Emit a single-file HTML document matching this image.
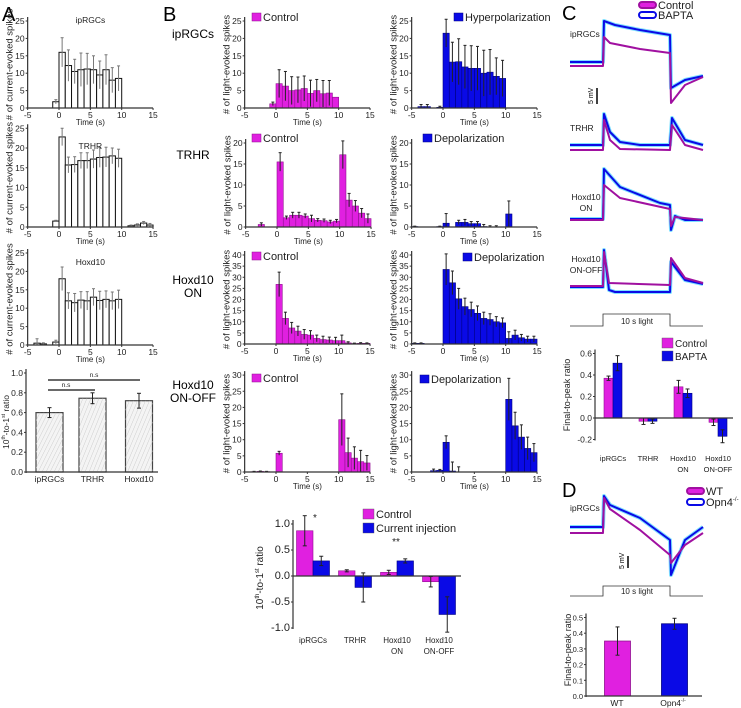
<!DOCTYPE html>
<html><head><meta charset="utf-8"><style>
html,body{margin:0;padding:0;background:#fff;}
svg{display:block;font-family:"Liberation Sans",sans-serif;}
</style></head><body>
<svg id="fig" width="741" height="708" viewBox="0 0 741 708" xmlns="http://www.w3.org/2000/svg">
<g id="static">
<text x="2" y="21" font-size="20">A</text>
<text x="163" y="21" font-size="20">B</text>
<text x="562" y="20" font-size="20">C</text>
<text x="562" y="497" font-size="20">D</text>
<text x="193" y="38" font-size="12" text-anchor="middle">ipRGCs</text>
<text x="193" y="159" font-size="12" text-anchor="middle">TRHR</text>
<text x="193" y="284" font-size="12" text-anchor="middle"><tspan x="193">Hoxd10</tspan><tspan x="193" dy="13">ON</tspan></text>
<text x="193" y="389" font-size="12" text-anchor="middle"><tspan x="193">Hoxd10</tspan><tspan x="193" dy="13">ON-OFF</tspan></text>
</g>
</svg>
<script>
const NS='http://www.w3.org/2000/svg';
const svg=document.getElementById('fig');
// ---------- data ----------
const A1v=[0,0,0,0,1.8,16,12.2,10.5,11,11.2,11,9.5,11,8,8.5,0,0,0,0,0];
const A1e=[0,0,0,0,0.6,4.2,4.5,3.5,4.8,4.5,4,4,4.3,3.6,3.6,0,0,0,0,0];
const A2v=[0,0,0,0,1.5,22.8,15.7,15.8,16.8,16.8,17.2,17.6,17.7,18,17.4,0,0.3,0.5,1,0.5];
const A2e=[0,0,0,0,0.2,2.2,2,2,2,2,2.3,2.5,2.5,2,2.3,0,0.2,0.3,0.4,0.4];
const A3v=[0,0.5,0.3,0,0.8,18,12,11.5,12.2,12,13,12.1,12.4,12,12.4,0,0,0,0,0];
const A3e=[0,1.2,0.3,0,0.5,3.2,2.2,2.5,2.3,2.5,2.3,2.5,2.3,2.4,2.5,0,0,0,0,0];
const B1c=[0,0,0,0,1.2,7,6.3,5,5.2,5.6,4.2,5,4.1,4.3,3.1,0,0,0,0,0];
const B1ce=[0,0,0,0,0.5,4,4.2,4,3.7,3.6,3.8,3.2,3.8,3.6,0,0,0,0,0,0];
const B1d=[0,0.4,0.4,0,0.2,21.5,13.2,13.3,11.8,11.4,11.4,10,10.3,9.1,8.5,0,0,0,0,0];
const B1de=[0,0.6,0.6,0,0.3,4,5.7,6.6,6.2,6.5,6.3,6.6,6.5,5.3,5.2,0,0,0,0,0];
const B2c=[0,0,0.6,0,0,15.5,2.2,2.8,2.8,2.6,2,1.6,1.5,1.2,1.4,17.2,6.4,5,3.3,2];
const B2ce=[0,0,0.4,0,0,2.2,0.4,0.7,0.7,0.5,0.8,0.4,0.4,0.4,0.4,3.3,1.6,1.3,1.1,1.1];
const B2d=[0.1,0,0,0,0.1,0.9,0,1.1,1.1,0.8,0.8,0.1,0,0,0,3.1,0,0,0,0];
const B2de=[0.1,0,0,0,0.1,2.3,0,0.5,0.7,0.5,0.5,0.5,0.3,0.3,0,3.1,0,0,0,0];
const B3c=[0,0,0,0,0,26.8,11.5,7.2,5.8,4.3,4,2.5,2,1.8,1.5,1.5,0.5,0.2,0.3,0.3];
const B3ce=[0,0,0,0,0,5.5,2.8,2.5,2.2,2.2,2,1.5,1.5,1.3,1.5,2.5,0.5,0.2,0.3,0.2];
const B3d=[0.3,0.3,0,0,0,33.5,27.5,20.3,16.8,15.5,13.8,11.5,11,10,9.5,2.5,4,2.8,2.2,2.2];
const B3de=[0.2,0.2,0,0,0,7,5.3,4.7,3.8,3.3,3.3,2.8,2.6,2.3,2.2,3,2.2,1.5,1.3,1.3];
const B4c=[0,0.1,0.2,0.1,0,5.8,0,0,0,0,0,0,0,0,0,16.2,6,4.3,3.2,2.8];
const B4ce=[0,0.1,0.1,0.1,0,0.6,0,0,0,0,0,0,0,0,0,8,4.5,3.5,3.5,2.3];
const B4d=[0,0,0,0.4,0.5,9.2,0.3,0,0,0,0,0,0,0,0,22.5,14.3,10.8,7.3,6];
const B4de=[0,0,0,0.5,0.3,2,2.8,1.6,0,0,0,0,0,0,0,6.5,4.2,3.8,3.5,2.8];
const xTicks=[-5,0,5,10,15];
const A4cats=['ipRGCs','TRHR','Hoxd10'];
const A4vals=[0.60,0.745,0.72];
const A4errs=[0.05,0.055,0.075];
const Bcats=[['ipRGCs'],['TRHR'],['Hoxd10','ON'],['Hoxd10','ON-OFF']];
const Bctrl=[0.87,0.10,0.07,-0.11];
const BctrlE=[0.29,0.02,0.04,0.10];
const Binj=[0.29,-0.22,0.29,-0.74];
const BinjE=[0.09,0.28,0.04,0.34];
const Ccats=[['ipRGCs'],['TRHR'],['Hoxd10','ON'],['Hoxd10','ON-OFF']];
const Cctrl=[0.37,-0.03,0.29,-0.04];
const CctrlE=[0.02,0.03,0.06,0.03];
const Cbap=[0.51,-0.03,0.23,-0.17];
const CbapE=[0.07,0.02,0.04,0.06];
const Dcats=['WT','Opn4'];
const Dvals=[0.35,0.46];
const Derrs=[0.09,0.035];
const MAG='#e020e0',BLU='#0a0ae6';

function el(tag,attrs,parent){const e=document.createElementNS(NS,tag);for(const k in attrs)e.setAttribute(k,attrs[k]);(parent||svg).appendChild(e);return e;}
function txt(x,y,s,size,anchor,parent){const t=el('text',{x:x,y:y,'font-size':size,'text-anchor':anchor||'middle',fill:'#222'},parent);t.textContent=s;return t;}

function hist(name,c){
  const g=el('g',{});
  
  
  const sx=6.27, xp=t=>c.x0+t*sx, yp=v=>c.y0-v*c.sy;
  c.vals.forEach((v,i)=>{const t=i-5;
    if(v>0){const b=el('rect',{x:xp(t),y:yp(v),width:sx,height:v*c.sy,fill:c.fill,stroke:c.stroke,'stroke-width':c.sw||0.6},g);
      
      }
    const e=c.errs[i];
    if(e>0){const cx=xp(t+0.5);
      el('line',{x1:cx,x2:cx,y1:yp(Math.max(v-e,0)),y2:yp(v+e),stroke:c.ec,'stroke-width':1},g);
      el('line',{x1:cx-1.5,x2:cx+1.5,y1:yp(v+e),y2:yp(v+e),stroke:c.ec,'stroke-width':1},g);}
  });
  const ax=xp(-5);
  el('line',{x1:ax,x2:ax,y1:c.y0,y2:yp(c.ymax)-4,stroke:'#333','stroke-width':1.2},g);
  for(let v=0;v<=c.ymax;v+=c.step){el('line',{x1:ax-2,x2:ax,y1:yp(v),y2:yp(v),stroke:'#333'},g);txt(ax-3,yp(v)+3,String(v),8.5,'end',g);}
  el('line',{x1:ax,x2:xp(15),y1:c.y0,y2:c.y0,stroke:'#333','stroke-width':1.2},g);
  xTicks.forEach(t=>{el('line',{x1:xp(t),x2:xp(t),y1:c.y0,y2:c.y0+2,stroke:'#333'},g);txt(xp(t),c.y0+10,String(t),8.5,'middle',g);});
  const tl=txt(xp(5),c.y0+17,'Time (s)',8,'middle',g);
  
  
  const yl=el('text',{x:0,y:0,'font-size':9.5,'text-anchor':'middle',fill:'#222',transform:`translate(${ax-15},${c.y0-c.ymax*c.sy/2}) rotate(-90)`},g);
  yl.textContent=c.ylabel;
  
  
  if(c.title){const tt=txt(xp(5),c.titleY,c.title,8.5,'middle',g);
    
    }
  if(c.leg){const lr=el('rect',{x:c.leg[0],y:c.leg[1]-8,width:9,height:8,fill:c.fill,stroke:c.stroke,'stroke-width':0.5},g);
    
    
    const lt=txt(c.leg[0]+11,c.leg[1],c.leg[2],11,'start',g);
    
    }
}
const AW={fill:'#fff',stroke:'#111',ec:'#777',sw:1,ylabel:'# of current-evoked spikes'};
hist('hist-a-iprgcs',Object.assign({x0:59,y0:108,sy:3.48,ymax:25,step:5,vals:A1v,errs:A1e,title:'ipRGCs',titleY:23},AW));
hist('hist-a-trhr',Object.assign({x0:59,y0:227,sy:3.95,ymax:25,step:5,vals:A2v,errs:A2e,title:'TRHR',titleY:149},AW));
hist('hist-a-hoxd10',Object.assign({x0:59,y0:345,sy:3.68,ymax:25,step:5,vals:A3v,errs:A3e,title:'Hoxd10',titleY:265},AW));
const BM={fill:MAG,stroke:'#901090',ec:'#222',ylabel:'# of light-evoked spikes'};
const BB={fill:BLU,stroke:'#000080',ec:'#222',ylabel:'# of light-evoked spikes'};
hist('hist-b-iprgcs-control',Object.assign({x0:276,y0:108,sy:3.48,ymax:25,step:5,vals:B1c,errs:B1ce,leg:[252,21,'Control']},BM));
hist('hist-b-iprgcs-hyper',Object.assign({x0:443,y0:108,sy:3.48,ymax:25,step:5,vals:B1d,errs:B1de,leg:[454,21,'Hyperpolarization']},BB));
hist('hist-b-trhr-control',Object.assign({x0:277,y0:227,sy:4.2,ymax:20,step:5,vals:B2c,errs:B2ce,leg:[252,142,'Control']},BM));
hist('hist-b-trhr-depol',Object.assign({x0:443,y0:227,sy:4.2,ymax:20,step:5,vals:B2d,errs:B2de,leg:[423,142,'Depolarization']},BB));
hist('hist-b-on-control',Object.assign({x0:276,y0:344,sy:2.225,ymax:40,step:5,vals:B3c,errs:B3ce,leg:[252,260,'Control']},BM));
hist('hist-b-on-depol',Object.assign({x0:443,y0:344,sy:2.225,ymax:40,step:5,vals:B3d,errs:B3de,leg:[463,261,'Depolarization']},BB));
hist('hist-b-onoff-control',Object.assign({x0:276,y0:472,sy:3.23,ymax:30,step:5,vals:B4c,errs:B4ce,leg:[252,382,'Control']},BM));
hist('hist-b-onoff-depol',Object.assign({x0:443,y0:472,sy:3.23,ymax:30,step:5,vals:B4d,errs:B4de,leg:[420,383,'Depolarization']},BB));

function errbar(g,cx,y1,y2,col){el('line',{x1:cx,x2:cx,y1:y1,y2:y2,stroke:col||'#222'},g);
  el('line',{x1:cx-2,x2:cx+2,y1:y1,y2:y1,stroke:col||'#222'},g);el('line',{x1:cx-2,x2:cx+2,y1:y2,y2:y2,stroke:col||'#222'},g);}
function yAxis(g,x,yp,ticks,fmt,fs){el('line',{x1:x,x2:x,y1:yp(ticks[0])+1,y2:yp(ticks[ticks.length-1])-4,stroke:'#333','stroke-width':1.2},g);
  ticks.forEach(v=>{el('line',{x1:x-2,x2:x,y1:yp(v),y2:yp(v),stroke:'#333'},g);txt(x-3,yp(v)+3,fmt(v),fs||8,'end',g);});}

// A4 bar chart
(function(){const g=el('g',{});
  
  
  const yp=v=>472-v*99, cx=[49.5,92.5,139];
  yAxis(g,26,yp,[0,0.2,0.4,0.6,0.8,1.0],v=>v.toFixed(1),8.5);
  A4vals.forEach((v,i)=>{const r=el('rect',{x:cx[i]-13.5,y:yp(v),width:27,height:v*99,fill:'#f4f4f4',stroke:'#444','stroke-width':1.2},g);
    
    
    for(let k=-30;k<40;k+=4)el('line',{x1:cx[i]-13.5+k,y1:472,x2:cx[i]-13.5+k+30,y2:yp(v),stroke:'#ccc','stroke-width':0.5,'clip-path':'url(#c'+i+')'},g);
    const cp=el('clipPath',{id:'c'+i},g);el('rect',{x:cx[i]-13.5,y:yp(v),width:27,height:v*99},cp);
    errbar(g,cx[i],yp(v-A4errs[i]),yp(v+A4errs[i]));
    txt(cx[i],482,A4cats[i],8.5,'middle',g);});
  el('line',{x1:26,x2:158,y1:472,y2:472,stroke:'#333','stroke-width':1.2},g);
  el('line',{x1:48,x2:95,y1:390,y2:390,stroke:'#111','stroke-width':1.3},g);txt(66,387,'n.s',6.5,'middle',g);
  el('line',{x1:48,x2:140,y1:380,y2:380,stroke:'#111','stroke-width':1.3},g);txt(94,377,'n.s',6.5,'middle',g);
  const yl=el('text',{'font-size':8.5,'text-anchor':'middle',fill:'#222',transform:'translate(9,422) rotate(-90)'},g);
  yl.innerHTML='10<tspan font-size="5" dy="-4">th</tspan><tspan dy="4">-to-1</tspan><tspan font-size="5" dy="-4">st</tspan><tspan dy="4"> ratio</tspan>';
  
  
})();

// grouped bar chart helper
function grouped(name,c){const g=el('g',{});
  
  
  const yp=v=>c.y0-v*c.sy;
  yAxis(g,c.ax,yp,c.ticks,c.fmt,c.fs);
  c.cats.forEach((cat,i)=>{const cx=c.cx0+i*c.gap;
    [[c.a,c.ae,MAG,'#901090'],[c.b,c.be,BLU,'#000080']].forEach((s,j)=>{const v=s[0][i];const x=cx-c.bw+j*c.bw;
      const r=el('rect',{x:x,y:Math.min(yp(v),c.y0),width:c.bw,height:Math.abs(v*c.sy),fill:s[2],stroke:s[3],'stroke-width':0.6},g);
      
      
      errbar(g,x+c.bw/2,yp(v-s[1][i]),yp(v+s[1][i]));});
    cat.forEach((l,k)=>txt(cx,c.labY+k*11,l,c.lfs,'middle',g));});
  el('line',{x1:c.ax,x2:c.axEnd,y1:c.y0,y2:c.y0,stroke:'#333','stroke-width':1.2},g);
  c.legend.forEach((L,k)=>{const lr=el('rect',{x:c.lx,y:c.ly+k*c.ldy-9,width:11,height:10,fill:L[1],stroke:'#555','stroke-width':0.4},g);
    
    
    const lt=txt(c.lx+13,c.ly+k*c.ldy,L[0],c.legfs,'start',g);
    
    });
  return {g,yp};
}
const bb=grouped('ratio-chart-b',{y0:576,sy:52,ax:293,axEnd:461,ticks:[-1,-0.5,0,0.5,1],fmt:v=>v.toFixed(1),fs:11,cats:Bcats,cx0:313,gap:42,bw:16.5,a:Bctrl,ae:BctrlE,b:Binj,be:BinjE,labY:643,lfs:8,legend:[['Control',MAG],['Current injection',BLU]],lx:363,ly:518,ldy:14,legfs:11});
txt(315,521,'*',10,'middle',bb.g);txt(396,545,'**',10,'middle',bb.g);
(function(){const yl=el('text',{'font-size':10,'text-anchor':'middle',fill:'#222',transform:'translate(263,578) rotate(-90)'},bb.g);
  yl.innerHTML='10<tspan font-size="6" dy="-4">th</tspan><tspan dy="4">-to-1</tspan><tspan font-size="6" dy="-4">st</tspan><tspan dy="4"> ratio</tspan>';
  
  })();
const cc=grouped('ratio-chart-c',{y0:418,sy:107.5,ax:595,axEnd:733,ticks:[-0.2,0,0.2,0.4,0.6],fmt:v=>v.toFixed(1),fs:8.5,cats:Ccats,cx0:613,gap:35,bw:9,a:Cctrl,ae:CctrlE,b:Cbap,be:CbapE,labY:461,lfs:7.5,legend:[['Control',MAG],['BAPTA',BLU]],lx:662,ly:347,ldy:13,legfs:10});
(function(){const yl=el('text',{'font-size':9,'text-anchor':'middle',fill:'#222',transform:'translate(570,395) rotate(-90)'},cc.g);yl.textContent='Final-to-peak ratio';
  
  })();

// D bar chart
(function(){const g=el('g',{});
  
  
  const yp=v=>696-v*157,cx=[617.5,674.5],cols=[MAG,BLU],st=['#901090','#000080'];
  yAxis(g,586,yp,[0,0.1,0.2,0.3,0.4,0.5],v=>v.toFixed(1),7.5);
  Dvals.forEach((v,i)=>{const r=el('rect',{x:cx[i]-13,y:yp(v),width:26,height:v*157,fill:cols[i],stroke:st[i],'stroke-width':0.8},g);
    
    
    errbar(g,cx[i],yp(v-Derrs[i]),yp(v+Derrs[i]));});
  el('line',{x1:586,x2:702,y1:696,y2:696,stroke:'#333','stroke-width':1.2},g);
  txt(617,706,'WT',8.5,'middle',g);
  const o=txt(673,706,'Opn4',8.5,'middle',g);o.innerHTML='Opn4<tspan font-size="5" dy="-4">-/-</tspan>';
  const yl=el('text',{'font-size':9,'text-anchor':'middle',fill:'#222',transform:'translate(571,650) rotate(-90)'},g);yl.textContent='Final-to-peak ratio';
  
  
})();

// traces (schematic voltage recordings)
function trace(name,pts,col,w){const p=el('polyline',{points:pts.map(q=>q.join(',')).join(' '),fill:'none',stroke:col,'stroke-width':w,'stroke-linejoin':'round'});
  
  }
function pair(name,blue,mag){trace(name+'-bapta-halo',blue,'#7fe0ff',4);trace(name+'-bapta',blue,BLU,2);trace(name+'-control',mag,'#a010a0',2);}
pair('trace-c-iprgcs',[[570,62],[603,62],[604,21],[615,25],[640,30],[670,35],[671,88],[685,80],[703,76]],[[570,66],[603,66],[604,37],[610,43],[640,49],[670,53],[671,103],[685,85],[703,77]]);
pair('trace-c-trhr',[[570,145],[603,145],[604,114],[610,132],[620,142],[640,145],[670,145],[672,118],[685,140],[703,145]],[[570,150],[603,150],[604,120],[610,140],[620,149],[670,150],[672,125],[685,145],[703,150]]);
pair('trace-c-hoxd10-on',[[570,219],[603,219],[604,169],[620,187],[660,203],[670,205],[671,230],[675,216],[685,220],[703,220]],[[570,220],[603,220],[604,185],[620,198],[670,209],[671,226],[675,217],[703,220]]);
pair('trace-c-hoxd10-onoff',[[570,287],[603,287],[604,250],[609,290],[615,292],[670,292],[671,262],[685,280],[703,284]],[[570,286],[603,286],[604,252],[609,283],[670,285],[671,258],[685,278],[703,283]]);
pair('trace-d-iprgcs',[[570,527],[603,527],[604,496],[610,505],[640,518],[670,540],[671,575],[685,540],[703,527]],[[570,533],[603,533],[604,498],[610,509],[640,530],[670,555],[671,563],[685,545],[703,533]]);
(function(){const g=el('g',{});
  
  
  txt(570,37,'ipRGCs',8.5,'start',g);txt(570,131,'TRHR',8.5,'start',g);
  txt(586,200,'Hoxd10',8.5,'middle',g);txt(586,211,'ON',8.5,'middle',g);
  txt(586,262,'Hoxd10',8.5,'middle',g);txt(586,273,'ON-OFF',8.5,'middle',g);
  txt(570,511,'ipRGCs',8.5,'start',g);
  el('line',{x1:597,x2:597,y1:88,y2:104,stroke:'#000','stroke-width':1.5},g);
  el('text',{'font-size':7,transform:'translate(593,104) rotate(-90)'},g).textContent='5 mV';
  el('line',{x1:628,x2:628,y1:556,y2:568,stroke:'#000','stroke-width':1.5},g);
  el('text',{'font-size':7,transform:'translate(624,569) rotate(-90)'},g).textContent='5 mV';
  [[314,326],[586,596]].forEach(s=>{el('polyline',{points:`570,${s[1]} 603,${s[1]} 603,${s[0]} 670,${s[0]} 670,${s[1]} 703,${s[1]}`,fill:'none',stroke:'#333','stroke-width':0.8},g);
    txt(637,s[1]-2,'10 s light',8,'middle',g);});
  [[5,'Control','#a010a0'],[15,'BAPTA',BLU],[491,'WT','#a010a0'],[502,'Opn4',BLU]].forEach((L,k)=>{const x=k<2?639:687;
    const r=el('rect',{x:x,y:L[0]-3,width:17,height:6,rx:3,fill:k%2?'#fff':MAG,stroke:L[2],'stroke-width':2},g);
    
    
    const t=txt(x+19,L[0]+4,L[1],11,'start',g);
    if(L[1]==='Opn4')t.innerHTML='Opn4<tspan font-size="6" dy="-5">-/-</tspan>';
    
    });
})();
</script>
</body></html>
